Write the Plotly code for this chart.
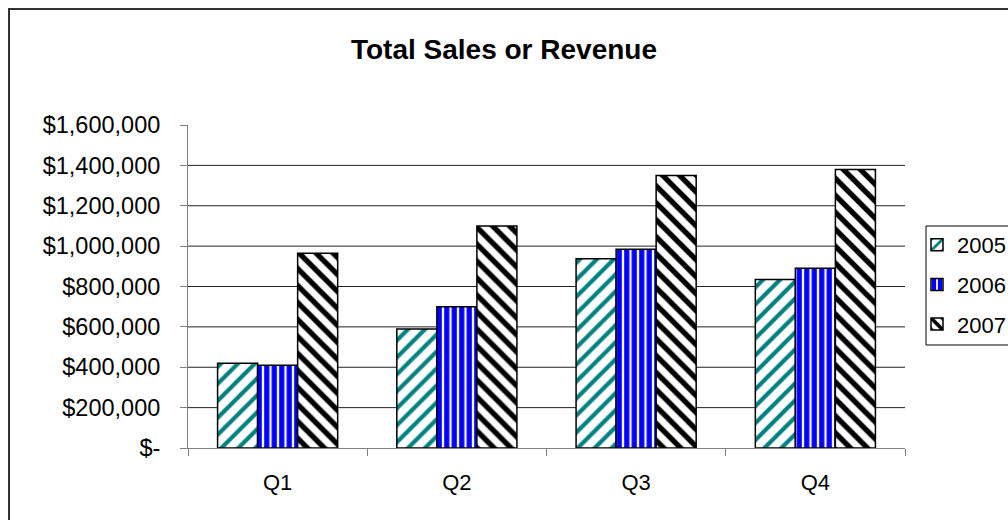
import plotly.graph_objects as go

quarters = ["Q1", "Q2", "Q3", "Q4"]
years = ["2005", "2006", "2007"]
sales_2005 = [420000, 590000, 937000, 835000]
sales_2006 = [410000, 700000, 985000, 890000]
sales_2007 = [965000, 1100000, 1350000, 1380000]
tick_vals = [0, 200000, 400000, 600000, 800000, 1000000, 1200000, 1400000, 1600000]
tick_text = ["$-", "$200,000", "$400,000", "$600,000", "$800,000",
             "$1,000,000", "$1,200,000", "$1,400,000", "$1,600,000"]

series = [sales_2005, sales_2006, sales_2007]
patterns = [
    dict(shape="/", fgcolor="#008080", bgcolor="white", size=12, solidity=0.35, fgopacity=1),
    dict(shape="|", fgcolor="#0000FF", bgcolor="white", size=7.5, solidity=0.7, fgopacity=1),
    dict(shape="\\", fgcolor="black", bgcolor="white", size=12, solidity=0.45, fgopacity=1),
]

FONT = "Liberation Sans, Arial, sans-serif"

fig = go.Figure()
for name, vals, pat in zip(years, series, patterns):
    fig.add_trace(go.Bar(
        x=quarters, y=vals, name=name, legendgroup=name,
        marker=dict(color="white", pattern=pat,
                    line=dict(color="black", width=1.5)),
    ))

# plot area in pixels
L, R, T, B = 188, 905, 125, 448
W, H = R - L, B - T

fig.update_layout(
    width=1008, height=520,
    margin=dict(l=L, r=1008 - R, t=T, b=520 - B, pad=0, autoexpand=False),
    paper_bgcolor="white", plot_bgcolor="white",
    barmode="group", bargap=0.33, bargroupgap=0,
    font=dict(family=FONT, size=22, color="black"),
    title=dict(text="<b>Total Sales or Revenue</b>", x=0.5, xanchor="center",
               xref="container", yref="container", y=1 - 49 / 520, yanchor="middle",
               font=dict(size=28, family=FONT, color="black")),
    showlegend=True,
    legend=dict(x=(917 - L) / W, xanchor="left", y=(B - 224) / H, yanchor="top",
                borderwidth=0, bgcolor="rgba(0,0,0,0)",
                font=dict(size=22, family=FONT), tracegroupgap=8,
                traceorder="grouped"),
    xaxis=dict(showline=True, linecolor="#808080", linewidth=1,
               ticks="outside", tickson="boundaries", ticklen=7,
               tickcolor="#808080", showgrid=False, ticklabelstandoff=15,
               tickfont=dict(size=22)),
    yaxis=dict(range=[0, 1600000], tickvals=tick_vals, ticktext=tick_text,
               showline=True, linecolor="#808080", linewidth=1,
               ticks="outside", ticklen=7, tickcolor="#808080",
               showgrid=False, zeroline=False, ticklabelstandoff=15,
               tickfont=dict(size=23.5)),
)

# horizontal gridlines at interior tick values (none at the top)
for v in tick_vals[1:-1]:
    fig.add_shape(type="line", xref="paper", x0=0, x1=1, yref="y", y0=v, y1=v,
                  line=dict(color="#222222", width=1), layer="below")

# legend border box (extends past the right edge)
fig.add_shape(type="rect", xref="paper", yref="paper",
              x0=(926 - L) / W, x1=(1030 - L) / W,
              y0=(B - 345) / H, y1=(B - 226) / H,
              line=dict(color="black", width=1), fillcolor="white",
              layer="below")

# outer chart border (top-left corner at 9,9; extends beyond the page)
fig.add_shape(type="rect", xref="paper", yref="paper",
              x0=(9 - L) / W, x1=(1040 - L) / W,
              y0=(B - 560) / H, y1=(B - 9) / H,
              line=dict(color="#333333", width=2), fillcolor="rgba(0,0,0,0)",
              layer="below")

fig.write_html("out.html")
